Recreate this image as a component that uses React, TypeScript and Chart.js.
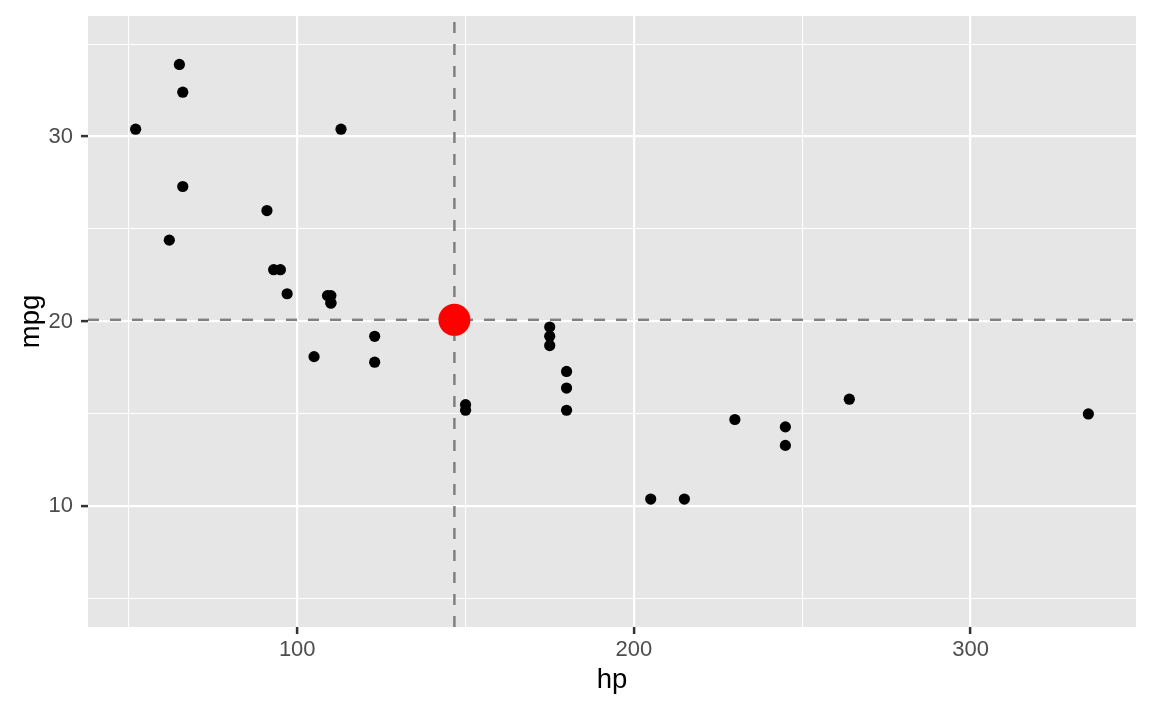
import React, { useEffect, useRef } from "react";
import { Chart, registerables } from "chart.js";

Chart.register(...registerables);

const hp = [110, 110, 93, 110, 175, 105, 245, 62, 95, 123, 123, 180, 180, 180, 205, 215, 230, 66, 52, 65, 97, 150, 150, 245, 175, 66, 91, 113, 264, 175, 335, 109];
const mpg = [21.0, 21.0, 22.8, 21.4, 18.7, 18.1, 14.3, 24.4, 22.8, 19.2, 17.8, 16.4, 17.3, 15.2, 10.4, 10.4, 14.7, 32.4, 30.4, 33.9, 21.5, 15.5, 15.2, 13.3, 19.2, 27.3, 26.0, 30.4, 15.8, 19.7, 15.0, 21.4];
const meanHp = 146.6875;
const meanMpg = 20.09062;
const xRange = [37.85, 349.15];
const yRange = [3.48, 36.52];
const xGrid = [50, 100, 150, 200, 250, 300];
const yGrid = [5, 10, 15, 20, 25, 30, 35];
const xLabels = [100, 200, 300];
const yLabels = [10, 20, 30];

const FONT = "'Liberation Sans', Arial, Helvetica, sans-serif";

const panelBg = {
  id: "panelBg",
  beforeDraw(chart: any) {
    const { ctx, chartArea } = chart;
    ctx.save();
    ctx.fillStyle = "#E6E6E6";
    ctx.fillRect(chartArea.left, chartArea.top, chartArea.right - chartArea.left, chartArea.bottom - chartArea.top);
    ctx.restore();
  },
};

export default function App() {
  const ref = useRef<HTMLCanvasElement>(null);
  useEffect(() => {
    const points = hp.map((x, i) => ({ x, y: mpg[i] }));
    const gridColor = "#FFFFFF";
    const chart = new Chart(ref.current!, {
      type: "scatter",
      data: {
        datasets: [
          {
            label: "cars",
            data: points,
            backgroundColor: "#000000",
            borderWidth: 0,
            pointRadius: 5.6,
            order: 2,
          },
          {
            label: "vline",
            type: "line",
            data: [{ x: meanHp, y: yRange[0] }, { x: meanHp, y: yRange[1] }],
            borderColor: "#808080",
            borderWidth: 2.5,
            borderDash: [11, 11],
            pointRadius: 0,
            showLine: true,
            order: 3,
          },
          {
            label: "hline",
            type: "line",
            data: [{ x: xRange[0], y: meanMpg }, { x: xRange[1], y: meanMpg }],
            borderColor: "#808080",
            borderWidth: 2.5,
            borderDash: [11, 11],
            pointRadius: 0,
            showLine: true,
            order: 3,
          },
          {
            label: "mean",
            data: [{ x: meanHp, y: meanMpg }],
            backgroundColor: "#FF0000",
            borderWidth: 0,
            pointRadius: 16,
            order: 1,
          },
        ],
      },
      options: {
        responsive: false,
        animation: false,
        events: [],
        layout: { padding: { left: 0, right: 15, top: 14, bottom: 0 } },
        plugins: { legend: { display: false }, tooltip: { enabled: false } },
        scales: {
          x: {
            type: "linear",
            min: xRange[0],
            max: xRange[1],
            border: { display: false },
            afterBuildTicks(scale: any) {
              scale.ticks = xGrid.map((v) => ({ value: v }));
            },
            afterFit(scale: any) {
              scale.height = 84;
              scale.paddingLeft = 0;
              scale.paddingRight = 0;
            },
            grid: {
              color: gridColor,
              lineWidth: (c: any) => (xLabels.includes(c.tick?.value) ? 2.2 : 1.1),
              tickLength: 7,
              tickColor: (c: any) => (xLabels.includes(c.tick?.value) ? "#333333" : "rgba(0,0,0,0)"),
              tickWidth: 2.5,
            },
            ticks: {
              autoSkip: false,
              maxRotation: 0,
              padding: 3,
              color: "#4D4D4D",
              font: { family: FONT, size: 22 },
              callback: (v: any) => (xLabels.includes(v) ? String(v) : ""),
            },
            title: {
              display: true,
              text: "hp",
              color: "#000000",
              font: { family: FONT, size: 27.5 },
              padding: { top: 0, bottom: 14 },
            },
          },
          y: {
            type: "linear",
            min: yRange[0],
            max: yRange[1],
            border: { display: false },
            afterBuildTicks(scale: any) {
              scale.ticks = yGrid.map((v) => ({ value: v }));
            },
            afterFit(scale: any) {
              scale.width = 88;
              scale.paddingTop = 0;
              scale.paddingBottom = 0;
            },
            grid: {
              color: gridColor,
              lineWidth: (c: any) => (yLabels.includes(c.tick?.value) ? 2.2 : 1.1),
              tickLength: 7,
              tickColor: (c: any) => (yLabels.includes(c.tick?.value) ? "#333333" : "rgba(0,0,0,0)"),
              tickWidth: 2.5,
            },
            ticks: {
              autoSkip: false,
              padding: 8,
              color: "#4D4D4D",
              font: { family: FONT, size: 22 },
              callback: (v: any) => (yLabels.includes(v) ? String(v) : ""),
            },
            title: {
              display: true,
              text: "mpg",
              color: "#000000",
              font: { family: FONT, size: 27.5 },
              padding: { top: 15, bottom: 0 },
            },
          },
        },
      },
      plugins: [panelBg],
    });
    return () => chart.destroy();
  }, []);
  return (
    <div style={{ position: "fixed", left: 0, top: 0, width: 1152, height: 711, background: "#FFFFFF" }}>
      <canvas ref={ref} width={1152} height={711} style={{ display: "block", width: 1152, height: 711 }} />
    </div>
  );
}
